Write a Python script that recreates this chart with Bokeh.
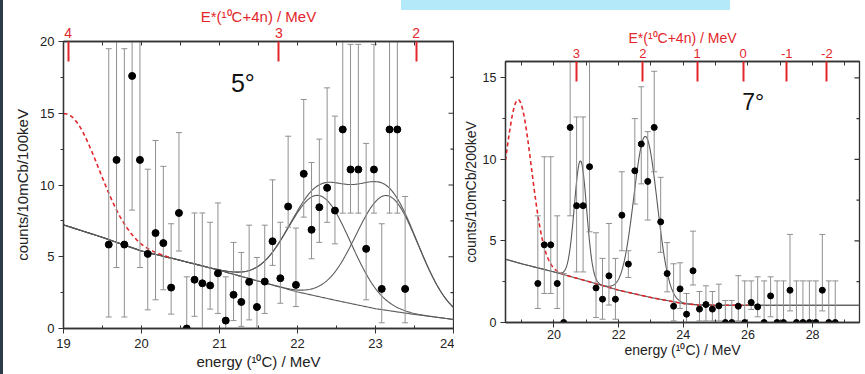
import numpy as np
from bokeh.plotting import figure
from bokeh.layouts import row, column
from bokeh.models import Range1d, LinearAxis, FixedTicker, SingleIntervalTicker, Label
from bokeh.embed import file_html
from bokeh.resources import INLINE

FONT = "Liberation Sans"
AXIS_COLOR = "#333333"
BAR_COLOR = "#909090"
FIT_COLOR = "#5a5a5a"
RED = "#e3262b"

# ---------------- 5 degree spectrum (100 keV bins) ----------------
energy_5 = [19.58, 19.68, 19.78, 19.88, 19.98, 20.08, 20.18, 20.28, 20.38, 20.48,
            20.58, 20.68, 20.78, 20.88, 20.98, 21.08, 21.18, 21.28, 21.38, 21.48,
            21.58, 21.68, 21.78, 21.88, 21.98, 22.08, 22.18, 22.28, 22.38, 22.48,
            22.58, 22.68, 22.78, 22.88, 22.98, 23.08, 23.18, 23.28, 23.38]
counts_5 = [5.85, 11.75, 5.85, 17.6, 11.75, 5.2, 6.65, 5.95, 2.85, 8.05,
            0.0, 3.4, 3.15, 3.0, 3.85, 0.55, 2.35, 1.85, 3.25, 1.5,
            3.27, 6.08, 3.5, 8.5, 3.04, 10.78, 6.88, 8.45, 9.8, 8.22,
            13.87, 11.08, 11.08, 5.55, 11.08, 2.76, 13.87, 13.87, 2.76]
err_lo_5 = [0.8, 4.25, 0.8, 8.25, 4.25, 1.3, 2.0, 2.7, 1.0, 5.4,
            0.0, 0.85, 0.0, 1.35, 1.05, 0.0, 0.55, 0.15, 0.6, 0.0,
            1.05, 4.4, 1.76, 7.06, 1.53, 7.76, 4.86, 6.0, 7.4, 5.9,
            8.04, 8.04, 8.04, 2.0, 8.04, 0.4, 8.04, 8.04, 0.4]
err_hi_5 = [19.5, 22.0, 19.5, 28.0, 22.0, 11.1, 13.1, 11.3, 7.3, 13.65,
            3.6, 8.05, 8.05, 7.4, 8.75, 3.6, 6.0, 5.3, 7.2, 4.95,
            7.2, 10.36, 7.4, 13.4, 7.0, 15.96, 11.57, 13.2, 16.77, 14.8,
            22.0, 19.8, 19.8, 12.9, 19.8, 7.3, 22.0, 22.0, 9.2]

# background fit, read at knots
bg_e_5 = [19.0, 19.5, 20.0, 20.5, 21.0, 21.5, 22.0, 22.5, 23.0, 23.5, 24.0]
bg_5 = [7.22, 6.35, 5.4, 4.75, 4.05, 3.3, 2.55, 1.95, 1.38, 0.98, 0.63]
# peak fits: centre / height above background / width (MeV)
peak_c_5 = [22.28, 23.15]
peak_h_5 = [7.05, 8.0]
peak_w_5 = [0.40, 0.40]
# dashed red component (low-energy peak)
red_c_5, red_h_5, red_w_5, red_end_5 = 19.05, 7.8, 0.40, 20.4

# E*(10C+4n) scale drawn along the top
estar_pos_5 = [19.06, 21.76, 23.52]
estar_lab_5 = ["4", "3", "2"]
y_major_5 = [0, 5, 10, 15, 20]
y_minor_5 = [2.5, 7.5, 12.5, 17.5]

# ---------------- 7 degree spectrum (200 keV bins) ----------------
energy_7 = [19.5, 19.7, 19.9, 20.1, 20.3, 20.5, 20.7, 20.9, 21.1, 21.3,
            21.5, 21.7, 21.9, 22.1, 22.3, 22.5, 22.7, 22.9, 23.1, 23.3,
            23.5, 23.7, 23.9, 24.1, 24.3, 24.5, 24.7, 24.9, 25.1, 25.3,
            25.5, 25.7, 25.9, 26.1, 26.3, 26.5, 26.7, 26.9, 27.1, 27.3,
            27.5, 27.7, 27.9, 28.1, 28.3, 28.5, 28.7]
counts_7 = [2.39, 4.76, 4.76, 2.39, 0.0, 11.96, 7.16, 7.16, 9.55, 2.12,
            1.43, 2.86, 1.43, 6.58, 3.58, 9.3, 10.94, 8.65, 11.96, 6.17,
            3.0, 1.0, 2.06, 0.51, 3.17, 0.82, 1.1, 0.82, 1.02, 0.0,
            0.0, 1.0, 0.0, 1.23, 0.96, 0.0, 1.63, 0.0, 0.0, 1.98,
            0.0, 0.0, 0.0, 0.0, 1.98, 0.0, 0.0]
err_lo_7 = [0.86, 1.78, 1.78, 0.86, 0.0, 6.54, 3.1, 3.1, 5.56, 0.3,
            0.2, 1.07, 0.2, 4.4, 2.76, 7.26, 8.5, 6.28, 9.24, 4.3,
            1.88, 0.1, 0.86, 0.0, 2.3, 0.1, 0.1, 0.1, 0.1, 0.0,
            0.0, 0.1, 0.0, 0.8, 0.35, 0.0, 0.35, 0.0, 0.0, 0.71,
            0.0, 0.0, 0.0, 0.0, 0.71, 0.0, 0.0]
err_hi_7 = [6.54, 10.16, 10.16, 6.54, 3.0, 18.0, 12.6, 12.6, 17.0, 5.5,
            3.93, 6.07, 3.93, 9.24, 4.4, 12.5, 14.45, 11.7, 15.4, 8.9,
            4.9, 3.6, 3.66, 1.78, 5.6, 1.9, 2.25, 1.9, 2.35, 1.35,
            1.35, 2.87, 2.55, 2.55, 2.8, 2.55, 2.8, 2.55, 2.55, 5.4,
            2.55, 2.55, 2.55, 2.55, 5.4, 2.55, 2.55]

bg_e_7 = [18.5, 19.0, 20.0, 21.0, 22.0, 23.0, 24.0, 24.5, 25.0, 26.0, 29.45]
bg_7 = [3.88, 3.6, 3.1, 2.55, 1.98, 1.53, 1.16, 1.07, 1.06, 1.06, 1.06]
peak_c_7 = [20.82, 22.83]
peak_h_7 = [7.26, 9.8]
peak_w_7 = [0.19, 0.36]
red_c_7, red_h_7, red_w_7, red_end_7 = 18.9, 10.0, 0.40, 26.0

estar_pos_7 = [20.69, 22.75, 24.43, 25.85, 27.2, 28.44]
estar_lab_7 = ["3", "2", "1", "0", "-1", "-2"]
y_major_7 = [0, 5, 10, 15]
y_minor_7 = [2.5, 7.5, 12.5]


def gauss(x, c, h, w):
    return h * np.exp(-0.5 * ((x - c) / w) ** 2)


def style_axis(ax, font_size):
    ax.axis_line_color = AXIS_COLOR
    ax.axis_line_width = 1.3
    ax.major_tick_line_color = AXIS_COLOR
    ax.minor_tick_line_color = AXIS_COLOR
    ax.major_label_text_font = FONT
    ax.major_label_text_color = "#222222"
    ax.major_label_text_font_size = font_size
    ax.axis_label_text_font = FONT
    ax.axis_label_text_font_style = "normal"
    ax.axis_label_text_color = "#222222"


def panel(width, height, xr, yr, borders, x_tick, fs, label_fs, ylabel,
          estar_pos, estar_lab, estar_minor, estar_fs, y_major, y_minor,
          x_standoffs, y_label_standoff):
    left, right, top, bottom = borders
    p = figure(width=width, height=height, x_range=Range1d(*xr), y_range=Range1d(*yr),
               output_backend="svg", toolbar_location=None, title=None,
               min_border_left=left, min_border_right=right,
               min_border_top=top, min_border_bottom=bottom)
    p.xgrid.visible = False
    p.ygrid.visible = False
    p.outline_line_color = AXIS_COLOR
    p.outline_line_width = 1.3
    p.background_fill_color = "white"
    p.border_fill_color = None

    xa = p.xaxis[0]
    xa.ticker = SingleIntervalTicker(interval=x_tick, num_minor_ticks=2)
    style_axis(xa, fs)
    xa.major_tick_out, xa.major_tick_in = 5, 0
    xa.minor_tick_out, xa.minor_tick_in = 0, 3
    xa.major_label_standoff = x_standoffs[0]
    xa.axis_label = "energy (¹⁰C) / MeV"
    xa.axis_label_text_font_size = label_fs
    xa.axis_label_standoff = x_standoffs[1]

    ya = p.yaxis[0]
    ya.ticker = SingleIntervalTicker(interval=5, num_minor_ticks=2)
    style_axis(ya, fs)
    ya.major_tick_out, ya.major_tick_in = 5, 0
    ya.minor_tick_out, ya.minor_tick_in = 3, 0
    ya.major_label_standoff = 4
    ya.axis_label = ylabel
    ya.axis_label_text_font_size = label_fs
    ya.axis_label_standoff = y_label_standoff

    ta = LinearAxis(ticker=FixedTicker(ticks=estar_pos, minor_ticks=estar_minor))
    style_axis(ta, estar_fs)
    ta.major_label_overrides = {v: t for v, t in zip(estar_pos, estar_lab)}
    ta.major_label_text_color = RED
    ta.major_tick_line_color = RED
    ta.major_tick_line_width = 2
    ta.major_tick_in, ta.major_tick_out = 20, 0
    ta.minor_tick_in, ta.minor_tick_out = 4, 0
    ta.major_label_standoff = 4
    ta.axis_label = "E*(¹⁰C+4n) / MeV"
    ta.axis_label_text_color = RED
    ta.axis_label_text_font_size = label_fs
    ta.axis_label_standoff = 0
    p.add_layout(ta, "above")

    # inward ticks on the right-hand frame edge (half of each dash is clipped)
    xe = [xr[1]]
    p.scatter(xe * len(y_major), y_major, marker="dash", size=10,
              line_color=AXIS_COLOR, line_width=1.2)
    p.scatter(xe * len(y_minor), y_minor, marker="dash", size=6,
              line_color=AXIS_COLOR, line_width=1.2)
    return p


def draw_data(p, e, c, lo, hi, size):
    e, c, lo, hi = map(np.asarray, (e, c, lo, hi))
    p.segment(x0=e, y0=lo, x1=e, y1=hi, line_color=BAR_COLOR, line_width=1.0)
    p.scatter(e, hi, marker="dash", size=6, line_color=BAR_COLOR, line_width=1.0)
    m = lo > 0
    p.scatter(e[m], lo[m], marker="dash", size=6, line_color=BAR_COLOR, line_width=1.0)
    p.scatter(e, c, size=size, fill_color="black", line_color="black")


# ---------------- left panel: 5 degrees ----------------
p5 = panel(454, 374, (19, 24), (0, 20), (63, 1, 41, 46), 1, "13px", "15px",
           "counts/10mCb/100keV", estar_pos_5, estar_lab_5,
           [19.5, 20, 20.5, 21, 21.5, 22, 22.5, 23, 23.5], "14px",
           y_major_5, y_minor_5, (5, 2), 6)

xg5 = np.linspace(19, 24, 400)
bgg5 = np.interp(xg5, bg_e_5, bg_5)
g1 = gauss(xg5, peak_c_5[0], peak_h_5[0], peak_w_5[0])
g2 = gauss(xg5, peak_c_5[1], peak_h_5[1], peak_w_5[1])
p5.line(xg5, bgg5, line_color=FIT_COLOR, line_width=1.1)
p5.line(xg5, bgg5 + g1, line_color=FIT_COLOR, line_width=1.1)
p5.line(xg5, bgg5 + g2, line_color=FIT_COLOR, line_width=1.1)
p5.line(xg5, bgg5 + g1 + g2, line_color=FIT_COLOR, line_width=1.1)
xr5 = xg5[xg5 <= red_end_5]
p5.line(xr5, np.interp(xr5, bg_e_5, bg_5) + gauss(xr5, red_c_5, red_h_5, red_w_5),
        line_color=RED, line_width=1.6, line_dash="4 3")
draw_data(p5, energy_5, counts_5, err_lo_5, err_hi_5, 7)
p5.add_layout(Label(x=21.3, y=17.1, text="5°", text_font=FONT, text_font_size="25px",
                    text_align="center", text_baseline="middle", text_color="#111111"))

# ---------------- right panel: 7 degrees ----------------
p7 = panel(411, 374, (18.5, 29.45), (0, 16), (51, 6, 61, 52), 2, "12.5px", "14px",
           "counts/10mCb/200keV", estar_pos_7, estar_lab_7,
           list(range(19, 30)), "13px", y_major_7, y_minor_7, (2, 0), 1)

xg7 = np.linspace(18.5, 29.45, 700)
bgg7 = np.interp(xg7, bg_e_7, bg_7)
p7.line(xg7, bgg7, line_color=FIT_COLOR, line_width=1.1)
p7.line(xg7, bgg7 + gauss(xg7, peak_c_7[0], peak_h_7[0], peak_w_7[0])
        + gauss(xg7, peak_c_7[1], peak_h_7[1], peak_w_7[1]),
        line_color=FIT_COLOR, line_width=1.1)
xr7 = xg7[xg7 <= red_end_7]
p7.line(xr7, np.interp(xr7, bg_e_7, bg_7) + gauss(xr7, red_c_7, red_h_7, red_w_7),
        line_color=RED, line_width=1.6, line_dash="4 3")
draw_data(p7, energy_7, counts_7, err_lo_7, err_hi_7, 6)
p7.add_layout(Label(x=26.16, y=13.5, text="7°", text_font=FONT, text_font_size="23px",
                    text_align="center", text_baseline="middle", text_color="#111111"))

# page backdrop: white slide with a dark left edge and a light-blue strip on top
backdrop = {
    "background-color": "white",
    "background-image": "linear-gradient(#b3e9f9, #b3e9f9), linear-gradient(#2c3b49, #2c3b49)",
    "background-size": "329px 10px, 3px 100%",
    "background-position": "401px 0px, 0px 0px",
    "background-repeat": "no-repeat",
}
# each panel sits in its own column so the two frames are laid out independently
layout = row(column(p5), column(p7), styles=backdrop)
open("out.html", "w").write(file_html(layout, INLINE))
